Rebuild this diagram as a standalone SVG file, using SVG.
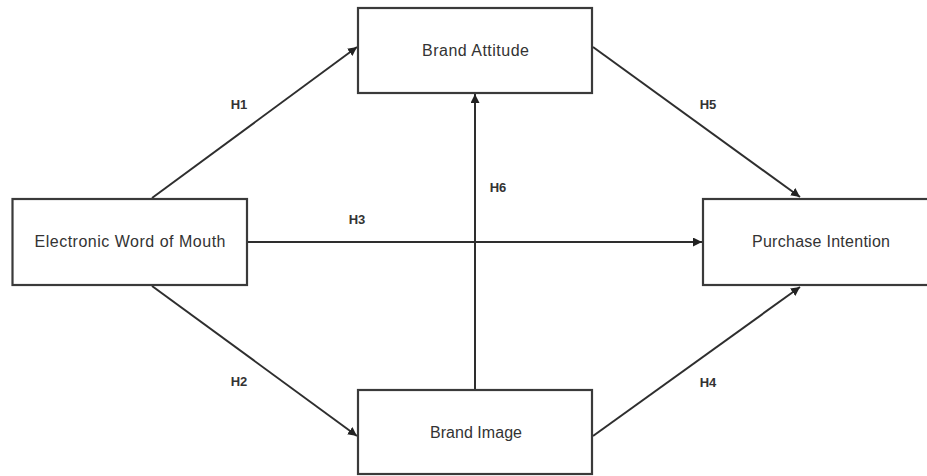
<svg xmlns="http://www.w3.org/2000/svg" width="927" height="476" viewBox="0 0 927 476">
<style>
.box{fill:#fff;stroke:#3a3a3a;stroke-width:2.2}
.lbl{font-family:"Liberation Sans",Arial,sans-serif;font-size:16px;fill:#333;text-anchor:middle;dominant-baseline:central}
.h{font-family:"Liberation Sans",Arial,sans-serif;font-size:13px;font-weight:bold;fill:#333;text-anchor:middle;dominant-baseline:central}
.ln{stroke:#2e2e2e;stroke-width:2;fill:none;marker-end:url(#ah)}
</style>
<defs>
<marker id="ah" viewBox="0 0 10 10" refX="10" refY="5" markerWidth="4.5" markerHeight="4.5" orient="auto" markerUnits="strokeWidth">
<path d="M0,0 L10,5 L0,10 z" fill="#222"/>
</marker>
</defs>
<rect width="927" height="476" fill="#fff"/>
<g id="connectors">
<line class="ln" x1="152" y1="198" x2="357" y2="47"/>
<line class="ln" x1="152" y1="286" x2="357" y2="436"/>
<line class="ln" x1="247" y1="242" x2="702" y2="242"/>
<line class="ln" x1="475" y1="390" x2="475" y2="94"/>
<line class="ln" x1="593" y1="47" x2="800" y2="197"/>
<line class="ln" x1="593" y1="436" x2="800" y2="287"/>
<text class="h" x="239" y="104">H1</text>
<text class="h" x="239" y="381">H2</text>
<text class="h" x="357" y="219">H3</text>
<text class="h" x="708" y="382">H4</text>
<text class="h" x="708" y="104">H5</text>
<text class="h" x="498" y="187">H6</text>
</g>
<g id="ewom">
<rect class="box" x="12.5" y="199" width="234.5" height="86"/>
<text class="lbl" x="130" y="241" textLength="191">Electronic Word of Mouth</text>
</g>
<g id="brand-attitude">
<rect class="box" x="358" y="8" width="234" height="85"/>
<text class="lbl" x="475.5" y="50" textLength="107">Brand Attitude</text>
</g>
<g id="brand-image">
<rect class="box" x="358" y="390" width="234" height="84"/>
<text class="lbl" x="476" y="432" textLength="92">Brand Image</text>
</g>
<g id="purchase-intention">
<rect class="box" x="703" y="199" width="237" height="86"/>
<text class="lbl" x="821" y="241" textLength="138">Purchase Intention</text>
</g>
</svg>
